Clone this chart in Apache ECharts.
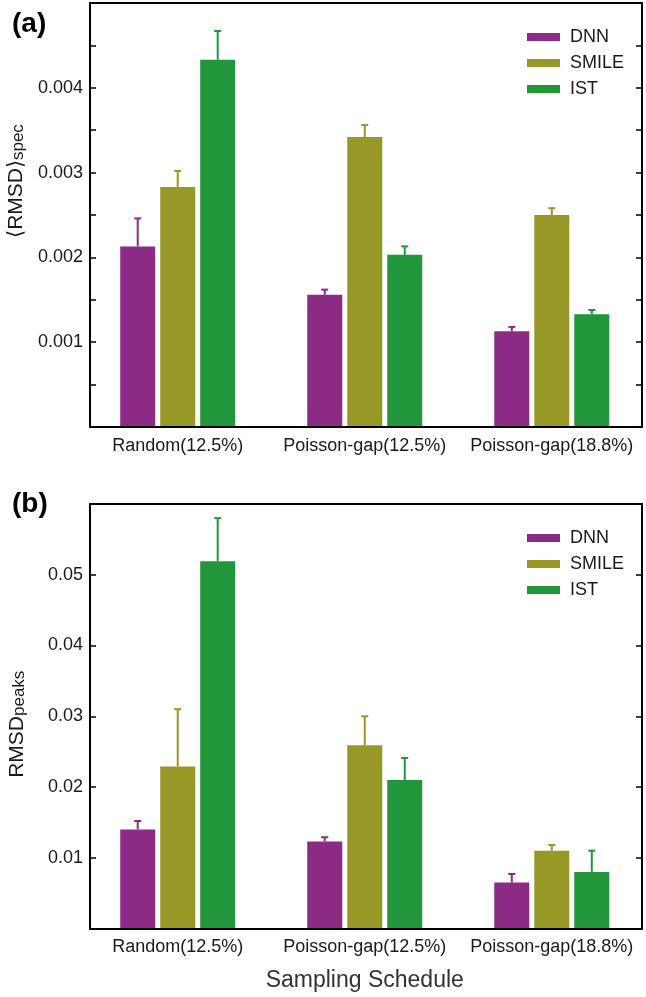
<!DOCTYPE html>
<html>
<head>
<meta charset="utf-8">
<script src="https://cdn.jsdelivr.net/npm/echarts@6/dist/echarts.min.js"></script>
<style>
html,body{margin:0;padding:0;background:#fff;}
#chart{width:646px;height:997px;}
</style>
</head>
<body>
<div id="chart"></div>
<script>
// ---- data ----
var categories = ['Random(12.5%)', 'Poisson-gap(12.5%)', 'Poisson-gap(18.8%)'];
var seriesNames = ['DNN', 'SMILE', 'IST'];

// panel (a): <RMSD>_spec
var specDNN = [0.00213, 0.00156, 0.00113];
var specDNNErr = [0.00033, 0.00006, 0.00005];
var specSMILE = [0.00283, 0.00342, 0.00250];
var specSMILEErr = [0.00019, 0.00014, 0.00008];
var specIST = [0.00433, 0.00203, 0.00133];
var specISTErr = [0.00034, 0.00010, 0.00005];
var specTicks = [0.001, 0.002, 0.003, 0.004];

// panel (b): RMSD_peaks
var peaksDNN = [0.0140, 0.0123, 0.0065];
var peaksDNNErr = [0.0012, 0.0006, 0.0012];
var peaksSMILE = [0.0229, 0.0259, 0.0110];
var peaksSMILEErr = [0.0081, 0.0041, 0.0008];
var peaksIST = [0.0519, 0.0210, 0.0080];
var peaksISTErr = [0.0061, 0.0031, 0.0030];
var peaksTicks = [0.01, 0.02, 0.03, 0.04, 0.05];

// ---- style ----
var colors = ['#8b2b86', '#989826', '#22963a'];
var FONT = 'Liberation Sans, Arial, Helvetica, sans-serif';
var TXT = '#1a1a1a';
var BAR_W = 35, BAR_STEP = 40;

var chart = echarts.init(document.getElementById('chart'), null, {renderer: 'canvas'});

function frameAxesX(gridIndex) {
  var base = {
    gridIndex: gridIndex, type: 'value', min: 0, max: 1, z: 5,
    axisLine: {show: true, onZero: false, lineStyle: {color: '#000', width: 2}},
    axisTick: {show: false}, axisLabel: {show: false}, splitLine: {show: false}
  };
  return [
    Object.assign({}, base, {position: 'bottom'}),
    Object.assign({}, base, {position: 'top'})
  ];
}

function frameAxesY(gridIndex, max, interval, minor, ticks, decimals, name, nameShift) {
  var common = {
    gridIndex: gridIndex, type: 'value', min: 0, max: max, interval: interval, z: 5,
    axisLine: {show: true, onZero: false, lineStyle: {color: '#000', width: 2}},
    axisTick: {show: true, inside: true, length: 6, lineStyle: {color: '#000', width: 1.5}},
    minorTick: {show: minor, splitNumber: 2, length: 6, lineStyle: {color: '#000', width: 1.5}},
    splitLine: {show: false}, minorSplitLine: {show: false}
  };
  var left = Object.assign({}, common, {
    position: 'left',
    axisLabel: {
      show: true, margin: 7, fontSize: 18, color: TXT, fontFamily: FONT,
      formatter: function (v) {
        for (var i = 0; i < ticks.length; i++) {
          if (Math.abs(ticks[i] - v) < interval * 1e-6) return ticks[i].toFixed(decimals);
        }
        return '';
      }
    },
    name: name.text,
    nameLocation: 'middle',
    nameGap: name.gap,
    nameRotate: 90,
    nameTextStyle: {
      color: TXT, fontFamily: FONT, fontSize: 20,
      padding: nameShift,
      rich: {
        m: {fontSize: 21, fontFamily: FONT, color: TXT, lineHeight: 24, verticalAlign: 'bottom'},
        s: {fontSize: 17, fontFamily: FONT, color: TXT, lineHeight: 24, verticalAlign: 'bottom', padding: [10, 0, 0, 0]}
      }
    }
  });
  var right = Object.assign({}, common, {position: 'right', axisLabel: {show: false}});
  return [left, right];
}

function barAxes(gridIndex, max, showName) {
  var x = {
    gridIndex: gridIndex, type: 'category', data: categories,
    axisLine: {show: false}, axisTick: {show: false}, splitLine: {show: false},
    axisLabel: {show: true, margin: 10, fontSize: 18, color: TXT, fontFamily: FONT, interval: 0}
  };
  if (showName) {
    x.name = 'Sampling Schedule';
    x.nameLocation = 'middle';
    x.nameGap = 41;
    x.nameTextStyle = {fontSize: 23, color: '#333', fontFamily: FONT};
  }
  var y = {gridIndex: gridIndex, type: 'value', min: 0, max: max, show: false};
  return {x: x, y: y};
}

function barSeries(xIdx, yIdx, vals, idx) {
  return {
    type: 'bar', name: seriesNames[idx], xAxisIndex: xIdx, yAxisIndex: yIdx,
    data: vals, barWidth: BAR_W, barGap: ((BAR_STEP - BAR_W) / BAR_W * 100) + '%',
    itemStyle: {color: colors[idx]}, z: 2, silent: true
  };
}

function errSeries(xIdx, yIdx, vals, errs, idx) {
  var data = vals.map(function (v, i) { return [i, v, v + errs[i]]; });
  var off = (idx - 1) * BAR_STEP;
  return {
    type: 'custom', name: 'err' + seriesNames[idx], xAxisIndex: xIdx, yAxisIndex: yIdx,
    data: data, z: 3, silent: true,
    renderItem: function (params, api) {
      var p0 = api.coord([api.value(0), api.value(1)]);
      var p1 = api.coord([api.value(0), api.value(2)]);
      var cx = p0[0] + off;
      var style = {stroke: colors[idx], lineWidth: 2};
      return {
        type: 'group',
        children: [
          {type: 'line', shape: {x1: cx, y1: p0[1], x2: cx, y2: p1[1]}, style: style},
          {type: 'line', shape: {x1: cx - 3.5, y1: p1[1], x2: cx + 3.5, y2: p1[1]}, style: style}
        ]
      };
    }
  };
}

var aFrameX = frameAxesX(0);
var bFrameX = frameAxesX(2);
var aBar = barAxes(1, 0.005, false);
var bBar = barAxes(3, 0.06, true);
var aFrameY = frameAxesY(0, 0.005, 0.001, true, specTicks, 3,
  {text: '{m|\u27E8RMSD\u27E9}{s|spec}', gap: 62}, [0, 0, 0, 68]);
var bFrameY = frameAxesY(2, 0.06, 0.01, false, peaksTicks, 2,
  {text: '{m|RMSD}{s|peaks}', gap: 62}, [0, 16, 0, 0]);

// axis order: xAxis: 0,1 frame a; 2 bar a; 3,4 frame b; 5 bar b
// yAxis: 0,1 frame a; 2 bar a; 3,4 frame b; 5 bar b
var xAxes = [aFrameX[0], aFrameX[1], aBar.x, bFrameX[0], bFrameX[1], bBar.x];
var yAxes = [aFrameY[0], aFrameY[1], aBar.y, bFrameY[0], bFrameY[1], bBar.y];

var legendCommon = {
  orient: 'vertical', left: 522, itemWidth: 33, itemHeight: 8, itemGap: 8,
  icon: 'rect', data: seriesNames, selectedMode: false,
  textStyle: {fontSize: 18, color: TXT, fontFamily: FONT, padding: [0, 0, 0, 5]}
};

var gridBase = {outerBoundsMode: 'none', containLabel: false};
var option = {
  backgroundColor: '#fff',
  animation: false,
  grid: [
    Object.assign({left: 90, right: 4, top: 3, height: 424}, gridBase),
    Object.assign({left: 84.2, right: 0.7, top: 3, height: 424}, gridBase),
    Object.assign({left: 90, right: 4, top: 504, height: 424.5}, gridBase),
    Object.assign({left: 84.2, right: 0.7, top: 504, height: 424.5}, gridBase)
  ],
  xAxis: xAxes,
  yAxis: yAxes,
  legend: [
    Object.assign({}, legendCommon, {top: 23}),
    Object.assign({}, legendCommon, {top: 524})
  ],
  graphic: [
    {type: 'text', left: 12, top: 10, style: {text: '(a)', font: 'bold 28px ' + FONT, fill: '#000'}},
    {type: 'text', left: 12, top: 490, style: {text: '(b)', font: 'bold 28px ' + FONT, fill: '#000'}}
  ],
  series: [
    barSeries(2, 2, specDNN, 0),
    barSeries(2, 2, specSMILE, 1),
    barSeries(2, 2, specIST, 2),
    errSeries(2, 2, specDNN, specDNNErr, 0),
    errSeries(2, 2, specSMILE, specSMILEErr, 1),
    errSeries(2, 2, specIST, specISTErr, 2),
    barSeries(5, 5, peaksDNN, 0),
    barSeries(5, 5, peaksSMILE, 1),
    barSeries(5, 5, peaksIST, 2),
    errSeries(5, 5, peaksDNN, peaksDNNErr, 0),
    errSeries(5, 5, peaksSMILE, peaksSMILEErr, 1),
    errSeries(5, 5, peaksIST, peaksISTErr, 2)
  ]
};
chart.setOption(option);
</script>
</body>
</html>
